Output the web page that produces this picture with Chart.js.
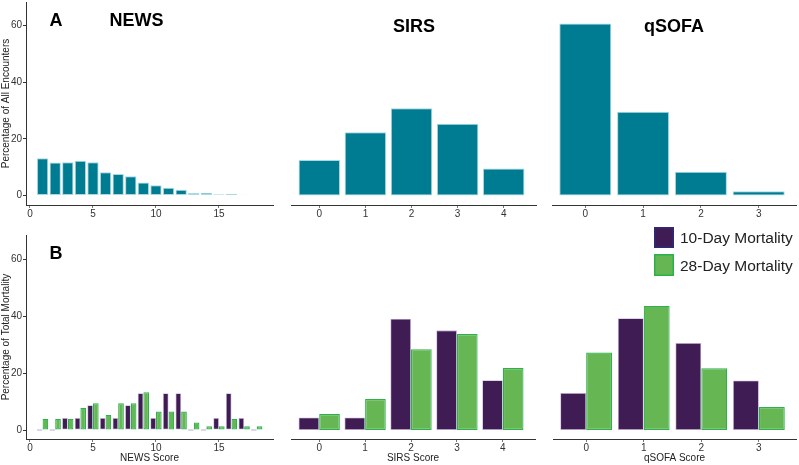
<!DOCTYPE html>
<html><head><meta charset="utf-8">
<script src="https://cdn.jsdelivr.net/npm/chart.js@4/dist/chart.umd.min.js"></script>
<style>
html,body{margin:0;padding:0;background:#fff;}
#wrap{position:relative;width:799px;height:465px;overflow:hidden;background:#fff;}
canvas{position:absolute;}
</style></head><body><div id="wrap">
<canvas id="c1" width="280" height="225" style="left:0px;top:0px;width:280px;height:225px"></canvas>
<canvas id="c2" width="255" height="225" style="left:285px;top:0px;width:255px;height:225px"></canvas>
<canvas id="c3" width="254" height="225" style="left:545px;top:0px;width:254px;height:225px"></canvas>
<canvas id="c4" width="280" height="245" style="left:0px;top:220px;width:280px;height:245px"></canvas>
<canvas id="c5" width="255" height="245" style="left:285px;top:220px;width:255px;height:245px"></canvas>
<canvas id="c6" width="254" height="245" style="left:545px;top:220px;width:254px;height:245px"></canvas>
</div>
<script>
// ---- data ----
const newsScores = [1,2,3,4,5,6,7,8,9,10,11,12,13,14,15,16,17,18];
const sirsScores = [0,1,2,3,4];
const qsofaScores = [0,1,2,3];

const newsEncounters = [13.1,11.6,11.7,12.3,11.7,8.2,7.6,6.8,4.6,3.6,2.7,2.0,0.9,1.0,0.4,0.6,0.3,0.2];
const sirsEncounters = [12.5,22.3,30.8,25.3,9.5];
const qsofaEncounters = [60.7,29.5,8.4,1.5];

const newsMort10 = [0,0,4.2,4.2,8.7,4.2,4.2,8.7,12.9,4.2,12.9,12.9,0,0,4.2,12.9,4.2,0];
const newsMort28 = [3.9,3.9,3.9,7.8,9.4,5.3,9.4,9.4,13.3,6.5,6.5,6.5,2.6,1.3,1.3,3.9,1.3,1.3];
const sirsMort10 = [4.4,4.4,39.1,35.0,17.5];
const sirsMort28 = [5.6,10.9,28.4,33.7,21.8];
const qsofaMort10 = [13.0,39.3,30.6,17.4];
const qsofaMort28 = [27.2,43.6,21.7,8.1];

const newsTickLabels = [0,5,10,15];
const sirsTickLabels = [0,1,2,3,4];
const qsofaTickLabels = [0,1,2,3];
const yTickLabels = [0,20,40,60];

const seriesLabels = ['10-Day Mortality','28-Day Mortality'];
const panelTitles = ['NEWS','SIRS','qSOFA'];
const rowLabels = ['A','B'];
const yTitles = ['Percentage of All Encounters','Percentage of Total Mortality'];
const xTitles = ['NEWS Score','SIRS Score','qSOFA Score'];

// ---- styles ----
const FONT = "'Liberation Sans', Arial, Helvetica, sans-serif";
Chart.defaults.font.family = FONT;
const TEAL = '#007C92', TEAL_B = '#A9D9E1';
const PURPLE = '#401C54', PURPLE_B = '#C7B5D6';
const GREEN = '#67B654', GREEN_B = '#2BB24C';
const AXIS = '#333333';

const textPlugin = {
  id: 'panelText',
  afterDraw(chart, args, opts) {
    const ctx = chart.ctx;
    (opts.items || []).forEach(it => {
      ctx.save();
      ctx.font = it.font;
      ctx.fillStyle = it.color || '#000';
      ctx.textAlign = it.align || 'center';
      ctx.textBaseline = 'alphabetic';
      ctx.fillText(it.text, it.x, it.y);
      ctx.restore();
    });
  }
};

const boxLegend = {
  id: 'boxLegend',
  afterDraw(chart, args, opts) {
    if (!opts.show) return;
    const ctx = chart.ctx;
    chart.data.datasets.forEach((ds, i) => {
      const b = opts.boxes[i];
      ctx.save();
      ctx.fillStyle = ds.backgroundColor;
      ctx.fillRect(b.x, b.y, b.w, b.h);
      ctx.strokeStyle = opts.strokes[i];
      ctx.lineWidth = 1.5;
      ctx.strokeRect(b.x + 0.75, b.y + 0.75, b.w - 1.5, b.h - 1.5);
      ctx.font = '15.5px ' + FONT;
      ctx.fillStyle = '#222';
      ctx.textAlign = 'left';
      ctx.textBaseline = 'alphabetic';
      ctx.fillText(ds.label, opts.textX, b.textY);
      ctx.restore();
    });
  }
};

function zeroPad(s) { s.paddingTop = 0; s.paddingBottom = 0; s.paddingLeft = 0; s.paddingRight = 0; }

function makeChart(id, c) {
  const scales = {
    x: {
      type: 'linear', offset: false, min: c.xMin, max: c.xMax,
      afterBuildTicks: s => { s.ticks = c.xTicks.map(v => ({value: v})); },
      afterFit: s => { s.height = c.xHeight; zeroPad(s); },
      ticks: {font: {size: 10}, color: AXIS, padding: 0, maxRotation: 0, autoSkip: false},
      grid: {drawOnChartArea: false, offset: false, tickLength: 3, color: '#777'},
      border: {display: true, color: AXIS, width: 1},
      title: c.xTitle ? {display: true, text: c.xTitle, font: {size: 10}, color: '#222', padding: {top: 0, bottom: 1}} : {display: false}
    },
    y: {
      type: 'linear', min: c.yMin, max: c.yMax, display: c.showY,
      afterBuildTicks: s => { s.ticks = yTickLabels.map(v => ({value: v})); },
      afterFit: s => { s.width = c.showY ? 26 : 0; zeroPad(s); },
      ticks: {font: {size: 10}, color: AXIS, padding: 1},
      grid: {drawOnChartArea: false, tickLength: 3, color: AXIS},
      border: {display: true, color: AXIS, width: 1},
      title: c.yTitle ? {display: true, text: c.yTitle, font: {size: 10}, color: '#222', padding: {top: 0, bottom: 0}} : {display: false}
    }
  };
  return new Chart(document.getElementById(id), {
    type: 'bar',
    data: {labels: c.labels, datasets: c.datasets},
    options: {
      responsive: false, animation: false, devicePixelRatio: 1,
      layout: {padding: c.padding},
      plugins: {
        legend: {display: false}, tooltip: {enabled: false}, title: {display: false},
        panelText: {items: c.texts || []},
        boxLegend: c.legend || {show: false}
      },
      scales
    },
    plugins: [textPlugin, boxLegend]
  });
}

function encDataset(vals) {
  return {label: 'Encounters', data: vals, backgroundColor: TEAL, borderColor: TEAL_B, borderWidth: 1,
    borderSkipped: false, categoryPercentage: 0.9, barPercentage: 1.0};
}
function mortDatasets(v10, v28) {
  return [
    {label: seriesLabels[0], data: v10, backgroundColor: PURPLE, borderColor: PURPLE_B, borderWidth: 0.8,
      borderSkipped: false, categoryPercentage: 0.9, barPercentage: 1.0, minBarLength: 1.5},
    {label: seriesLabels[1], data: v28, backgroundColor: GREEN, borderColor: GREEN_B, borderWidth: 1.2,
      borderSkipped: false, categoryPercentage: 0.9, barPercentage: 1.0}
  ];
}

const bold18 = 'bold 18px ' + FONT;
const TOP_Y = {min: -3.35, max: 68.25};
const BOT_Y = {min: -3.16, max: 68.5};
const NEWS_X = {min: -0.317, max: 19.29};
const SIRS_X = {min: -0.614, max: 4.70};
const QSOFA_X = {min: -0.576, max: 3.645};

// Row A
makeChart('c1', {labels: newsScores, datasets: [encDataset(newsEncounters)],
  xMin: NEWS_X.min, xMax: NEWS_X.max, xTicks: newsTickLabels, yMin: TOP_Y.min, yMax: TOP_Y.max,
  showY: true, yTitle: yTitles[0], xHeight: 20, padding: {top: 2, right: 7, left: 0, bottom: 0},
  texts: [{text: rowLabels[0], x: 56, y: 26, font: bold18}, {text: panelTitles[0], x: 136.5, y: 26, font: bold18}]});
makeChart('c2', {labels: sirsScores, datasets: [encDataset(sirsEncounters)],
  xMin: SIRS_X.min, xMax: SIRS_X.max, xTicks: sirsTickLabels, yMin: TOP_Y.min, yMax: TOP_Y.max,
  showY: false, xHeight: 20, padding: {top: 2, right: 4, left: 6, bottom: 0},
  texts: [{text: panelTitles[1], x: 129, y: 31.5, font: bold18}]});
makeChart('c3', {labels: qsofaScores, datasets: [encDataset(qsofaEncounters)],
  xMin: QSOFA_X.min, xMax: QSOFA_X.max, xTicks: qsofaTickLabels, yMin: TOP_Y.min, yMax: TOP_Y.max,
  showY: false, xHeight: 20, padding: {top: 2, right: 3, left: 7, bottom: 0},
  texts: [{text: panelTitles[2], x: 129, y: 31.5, font: bold18}]});

// Row B
makeChart('c4', {labels: newsScores, datasets: mortDatasets(newsMort10, newsMort28),
  xMin: NEWS_X.min, xMax: NEWS_X.max, xTicks: newsTickLabels, yMin: BOT_Y.min, yMax: BOT_Y.max,
  showY: true, yTitle: yTitles[1], xTitle: xTitles[0], xHeight: 26, padding: {top: 15, right: 7, left: 0, bottom: 0},
  texts: [{text: rowLabels[1], x: 56, y: 39, font: bold18}]});
makeChart('c5', {labels: sirsScores, datasets: mortDatasets(sirsMort10, sirsMort28),
  xMin: SIRS_X.min, xMax: SIRS_X.max, xTicks: sirsTickLabels, yMin: BOT_Y.min, yMax: BOT_Y.max,
  showY: false, xTitle: xTitles[1], xHeight: 26, padding: {top: 15, right: 5, left: 6, bottom: 0}});
makeChart('c6', {labels: qsofaScores, datasets: mortDatasets(qsofaMort10, qsofaMort28),
  xMin: QSOFA_X.min, xMax: QSOFA_X.max, xTicks: qsofaTickLabels, yMin: BOT_Y.min, yMax: BOT_Y.max,
  showY: false, xTitle: xTitles[2], xHeight: 26, padding: {top: 15, right: 3, left: 8, bottom: 0},
  legend: {show: true, textX: 135, strokes: ['#2E2A78', GREEN_B],
    boxes: [{x: 109, y: 7, w: 20, h: 21, textY: 23}, {x: 109, y: 34, w: 20, h: 22, textY: 50.5}]}});
</script>
</body></html>
